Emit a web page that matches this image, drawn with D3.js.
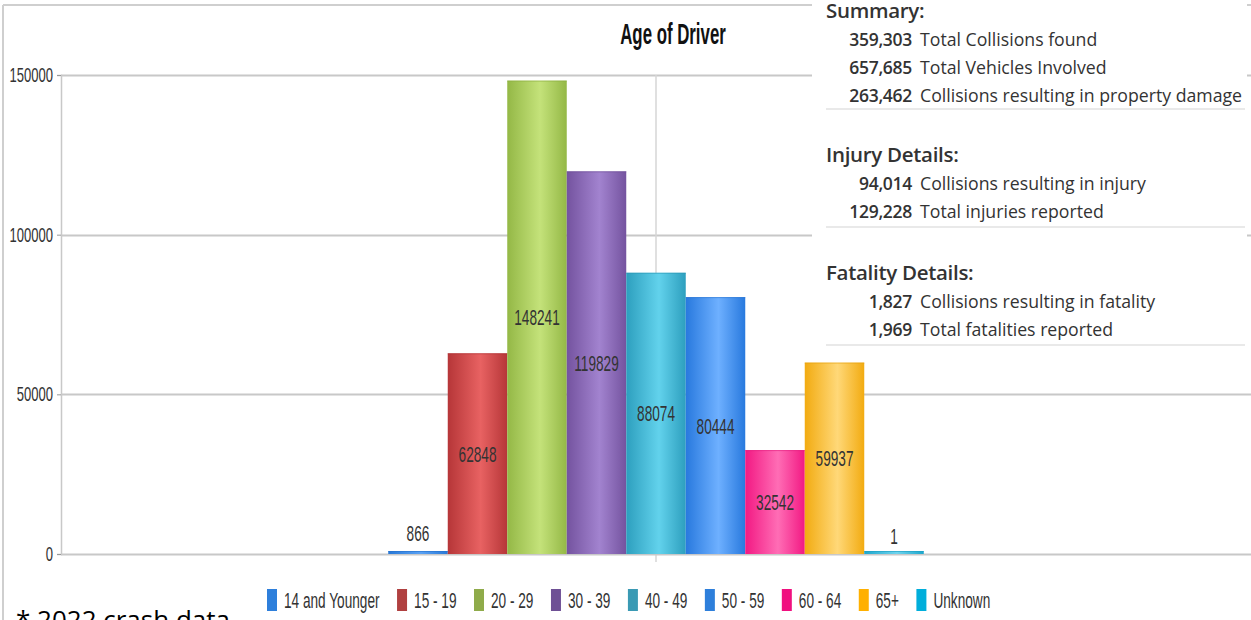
<!DOCTYPE html>
<html>
<head>
<meta charset="utf-8">
<script src="https://cdn.jsdelivr.net/npm/d3@7"></script>
<style>
  html, body { margin: 0; padding: 0; background: #fff; overflow: hidden; }
  svg { display: block; }
</style>
</head>
<body>
<svg id="chart" width="1251" height="620"></svg>
<script>
// ---------- data ----------
const categories = ["14 and Younger", "15 - 19", "20 - 29", "30 - 39", "40 - 49", "50 - 59", "60 - 64", "65+", "Unknown"];
const values = [866, 62848, 148241, 119829, 88074, 80444, 32542, 59937, 1];
const yTicks = [0, 50000, 100000, 150000];
const barColors = ["#2a7fe3", "#c0393b", "#9cc24a", "#7a58a8", "#2fa8c8", "#2a80ea", "#ff1a8a", "#ffb412", "#1fb0d8"];
const barLight  = ["#5aa2f5", "#e86262", "#c4e27a", "#a283cf", "#62d2ec", "#6eb0ff", "#ff6db5", "#ffd878", "#6fd4ee"];
const legendColors = ["#2e7fdb", "#b04040", "#8fab4a", "#6e5095", "#3a9ab4", "#2e7fdb", "#f0107f", "#ffb000", "#00aedb"];
const title = "Age of Driver";
const summaryRows = [["359,303", "Total Collisions found"], ["657,685", "Total Vehicles Involved"], ["263,462", "Collisions resulting in property damage"]];
const injuryRows = [["94,014", "Collisions resulting in injury"], ["129,228", "Total injuries reported"]];
const fatalityRows = [["1,827", "Collisions resulting in fatality"], ["1,969", "Total fatalities reported"]];
const footnote = "* 2022 crash data";

// ---------- layout ----------
const svg = d3.select("#chart");
const narrow = "'Liberation Sans', Arial, sans-serif";
const SX = 0.62; // horizontal condensing of chart text
const panelFont = "'Open Sans', 'Noto Sans', sans-serif";
const plot = { left: 61, right: 1251, top: 75, bottom: 554 };

const y = d3.scaleLinear().domain([0, 150000]).range([plot.bottom, plot.top]);
const xOuter = d3.scaleBand().domain(["all"]).range([plot.left, plot.right]);
const groupW = xOuter.bandwidth() * 0.45;
const center = xOuter("all") + xOuter.bandwidth() / 2;
const x = d3.scaleBand().domain(categories).range([center - groupW / 2, center + groupW / 2]);

function condensedText(parent, tx, ty, str, size, anchor, weight, sx) {
  return parent.append("text")
    .attr("transform", `translate(${tx},${ty}) scale(${sx || SX},1)`)
    .attr("text-anchor", anchor || "start")
    .attr("font-family", narrow).attr("font-size", size)
    .attr("font-weight", weight || "normal")
    .attr("fill", "#333").text(str);
}

// frame
svg.append("line").attr("x1", 3).attr("x2", 1251).attr("y1", 5).attr("y2", 5).attr("stroke", "#cfcfcf").attr("stroke-width", 2);
svg.append("line").attr("x1", 3).attr("x2", 3).attr("y1", 5).attr("y2", 620).attr("stroke", "#cfcfcf").attr("stroke-width", 2);

// gradients
const defs = svg.append("defs");
categories.forEach((c, i) => {
  const g = defs.append("linearGradient").attr("id", "g" + i).attr("x1", "0%").attr("x2", "100%").attr("y1", "0%").attr("y2", "0%");
  g.append("stop").attr("offset", "0%").attr("stop-color", d3.color(barColors[i]).darker(0.15));
  g.append("stop").attr("offset", "55%").attr("stop-color", barLight[i]);
  g.append("stop").attr("offset", "100%").attr("stop-color", d3.color(barColors[i]).darker(0.15));
});

// grid lines
svg.append("g").selectAll("line").data(yTicks.filter(d => d > 0)).join("line")
  .attr("x1", plot.left).attr("x2", plot.right)
  .attr("y1", d => Math.round(y(d)) + 0.5).attr("y2", d => Math.round(y(d)) + 0.5)
  .attr("stroke", "#c8c8c8").attr("stroke-width", 2);
svg.append("line").attr("x1", center).attr("x2", center).attr("y1", plot.top).attr("y2", plot.bottom + 8)
  .attr("stroke", "#d6d6d6").attr("stroke-width", 1.5);

// y axis
const yAxis = svg.append("g").attr("transform", `translate(${plot.left},0)`)
  .call(d3.axisLeft(y).tickValues(yTicks).tickSize(4).tickFormat(""));
yAxis.select(".domain").attr("stroke", "#c8c8c8").attr("stroke-width", 1.5);
yAxis.selectAll(".tick line").attr("stroke", "#999");
yTicks.forEach(t => {
  condensedText(svg, plot.left - 8, y(t) + 7, d3.format("d")(t), 21, "end");
});

// x axis baseline
svg.append("line").attr("x1", plot.left).attr("x2", plot.right).attr("y1", plot.bottom + 0.5).attr("y2", plot.bottom + 0.5)
  .attr("stroke", "#c8c8c8").attr("stroke-width", 2);

// bars
const bars = svg.append("g");
bars.selectAll("rect").data(values).join("rect")
  .attr("x", (d, i) => x(categories[i]))
  .attr("width", x.bandwidth())
  .attr("y", d => Math.min(y(d), plot.bottom - 3))
  .attr("height", d => Math.max(plot.bottom - y(d), 3))
  .attr("fill", (d, i) => `url(#g${i})`);
bars.selectAll("line.top").data(values).join("line").attr("class", "top")
  .attr("x1", (d, i) => x(categories[i])).attr("x2", (d, i) => x(categories[i]) + x.bandwidth())
  .attr("y1", d => Math.min(y(d), plot.bottom - 3) + 0.5).attr("y2", d => Math.min(y(d), plot.bottom - 3) + 0.5)
  .attr("stroke", (d, i) => d3.color(barColors[i]).darker(0.3)).attr("stroke-width", 1).attr("opacity", 0.6);

// value labels
const labels = svg.append("g");
values.forEach((d, i) => {
  const cx = x(categories[i]) + x.bandwidth() / 2;
  const inside = plot.bottom - y(d) > 30;
  const cy = inside ? (y(d) + plot.bottom) / 2 + 8 : y(d) - 10;
  condensedText(labels, cx, cy, d, 22, "middle");
});

// title
condensedText(svg, 673, 44, title, 29, "middle", "bold", 0.58).attr("fill", "#111");

// legend
const legend = svg.append("g").attr("transform", "translate(267,589)");
let lx = 0;
categories.forEach((c, i) => {
  const item = legend.append("g").attr("transform", `translate(${lx},0)`);
  item.append("rect").attr("width", 10).attr("height", 22).attr("fill", legendColors[i]);
  const t = condensedText(item, 17, 19, c, 22, "start");
  lx += 17 + t.node().getComputedTextLength() * SX + 17.5;
});

// summary panel
const panel = svg.append("g");
panel.append("rect").attr("x", 812).attr("y", 0).attr("width", 435).attr("height", 358).attr("fill", "#fff");
function section(headY, head, rows, sepY) {
  panel.append("text").attr("x", 826).attr("y", headY).attr("font-family", panelFont).attr("font-weight", 600)
    .attr("font-size", 20.5).attr("fill", "#333").attr("letter-spacing", -0.3).text(head);
  rows.forEach((r, k) => {
    const ry = headY + 28 + k * 28;
    panel.append("text").attr("x", 912).attr("y", ry).attr("text-anchor", "end").attr("font-family", panelFont)
      .attr("font-weight", 600).attr("font-size", 17.5).attr("letter-spacing", -0.3).attr("fill", "#333").text(r[0]);
    panel.append("text").attr("x", 920).attr("y", ry).attr("font-family", panelFont)
      .attr("font-size", 17.7).attr("fill", "#333").text(r[1]);
  });
  panel.append("line").attr("x1", 826).attr("x2", 1245).attr("y1", sepY).attr("y2", sepY)
    .attr("stroke", "#e2e2e2").attr("stroke-width", 1.5);
}
section(18, "Summary:", summaryRows, 109);
section(162, "Injury Details:", injuryRows, 227);
section(280, "Fatality Details:", fatalityRows, 345);

// footnote
svg.append("text").attr("x", 16).attr("y", 629).attr("font-family", panelFont).attr("font-size", 26)
  .attr("fill", "#000").text(footnote);
</script>
</body>
</html>
